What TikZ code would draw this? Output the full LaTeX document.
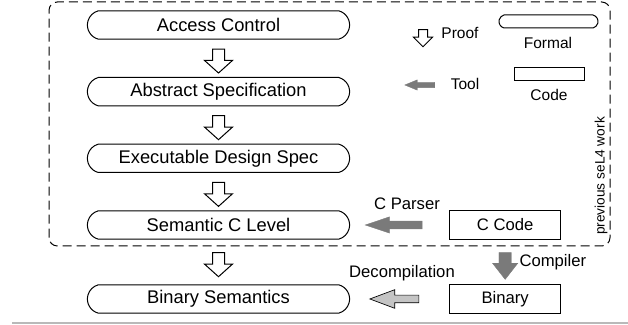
\documentclass[tikz,border=0pt]{standalone}
\usepackage{fontspec}
\setmainfont{Liberation Sans}
\usepackage{tikz}
\usetikzlibrary{shapes.misc,shapes.arrows,calc}

\definecolor{toolgray}{HTML}{7A7A7A}
\definecolor{decompgray}{HTML}{C4C4C4}

\tikzset{
  formal/.style={draw, rounded rectangle, rounded rectangle arc length=150,
    minimum width=164pt, minimum height=17pt, font=\fontsize{11}{13}\selectfont},
  codebox/.style={draw, rectangle, minimum width=67pt, minimum height=17pt,
    font=\fontsize{10}{12}\selectfont},
  lbl/.style={font=\fontsize{10}{12}\selectfont, inner sep=0pt},
  legend/.style={font=\fontsize{9.3}{11}\selectfont, inner sep=0pt},
  blockarrow/.style={single arrow, inner sep=0pt, outer sep=0pt},
  proofarrow/.style={blockarrow, draw, fill=white, rotate=-90, minimum height=14.4pt,
    inner ysep=3.3pt, single arrow head extend=4.8pt, single arrow tip angle=96},
  toolarrow/.style={blockarrow, fill=toolgray, draw=toolgray, line width=0.2pt},
}

\begin{document}
\begin{tikzpicture}[x=0.6pt, y=0.6pt, node distance=40pt, semithick]
  \useasboundingbox (0,0) rectangle (628,325);

  % verification levels
  \node[formal] (ac) at (218.5,300) {Access Control};
  \node[formal, below of=ac] (as) {Abstract Specification};
  \node[formal, below of=as] (ed) {Executable Design Spec};
  \node[formal, below of=ed] (sc) {Semantic C Level};
  \node[formal, below of=sc, node distance=44.4pt] (bs) {Binary Semantics};

  % code artefacts
  \node[codebox, right of=sc, node distance=172pt] (ccode) {C Code};
  \node[codebox, below of=ccode, node distance=44.4pt] (bin) {Binary};

  % proofs between levels
  \node[proofarrow] (pf1) at ($(ac.south)!0.5!(as.north)$) {};
  \node[proofarrow] (pf2) at ($(as.south)!0.5!(ed.north)$) {};
  \node[proofarrow] (pf3) at ($(ed.south)!0.5!(sc.north)$) {};
  \node[proofarrow] (pf4) at ($(sc.south)!0.5!(bs.north)$) {};

  % tools
  \node[toolarrow, rotate=180, minimum height=34.2pt, inner ysep=2.25pt,
    single arrow head extend=2.55pt, single arrow tip angle=37]
    (cparse) at ($(sc.east)!0.5!(ccode.west)$) {};
  \node[toolarrow, rotate=-90, minimum height=16.2pt, inner ysep=3.6pt,
    single arrow head extend=3.9pt, single arrow tip angle=76]
    (comp) at ($(ccode.south)!0.5!(bin.north)$) {};
  \node[blockarrow, draw, fill=decompgray, thin, rotate=180, minimum height=29.4pt,
    inner ysep=2.1pt, single arrow head extend=3.3pt, single arrow tip angle=41]
    (decomp) at ($(bs.east)!0.5!(bin.west)$) {};

  \node[lbl] (cparselbl) at (407,121) {C Parser};
  \node[lbl, anchor=west] (complbl) at (519,63) {Compiler};
  \node[lbl] (decomplbl) at (402,52) {Decompilation};

  % legend
  \node[blockarrow, draw, fill=white, rotate=-90, minimum height=10.2pt, inner ysep=2.4pt,
    single arrow head extend=3pt, single arrow tip angle=90] (lproof) at (423,289) {};
  \node[legend] (lprooflbl) at (460,292) {Proof};
  \node[draw, rounded rectangle, rounded rectangle arc length=150, minimum width=59.4pt,
    minimum height=7.8pt, inner sep=0pt] (lformal) at (548.5,303.5) {};
  \node[legend] (lformallbl) at (548,282) {Formal};
  \node[toolarrow, rotate=180, minimum height=18pt, inner ysep=1.5pt,
    single arrow head extend=1.5pt, single arrow tip angle=45] (ltool) at (423,240) {};
  \node[legend] (ltoollbl) at (465,241) {Tool};
  \node[draw, rectangle, minimum width=42pt, minimum height=7.8pt, inner sep=0pt]
    (lcode) at (549,250.5) {};
  \node[legend] (lcodelbl) at (549,230) {Code};

  % previous work frame
  \draw[dash pattern=on 5.4pt off 3pt, rounded corners=5pt] (49,79) rectangle (610,323);
  \node[rotate=90, font=\fontsize{8.2}{10}\selectfont, inner sep=0pt] (prev) at (601,149)
    {previous seL4 work};

  \draw[gray!55, line width=0.9pt] (12,2) -- (628,2);
\end{tikzpicture}
\end{document}
